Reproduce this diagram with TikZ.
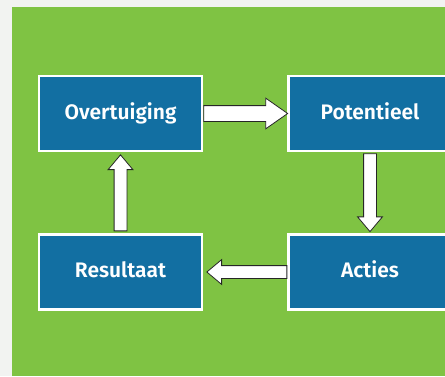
\documentclass[tikz,border=0pt]{standalone}
\usepackage{fontspec}
\setmainfont{Fira Sans}[BoldFont={Fira Sans SemiBold}]
\usetikzlibrary{shapes.arrows,positioning,calc}

\definecolor{leafgreen}{HTML}{7FC343}
\definecolor{cyclblue}{HTML}{126FA2}
\definecolor{paper}{HTML}{F2F3F1}

% fat white arrow from one anchor to another
\newcommand{\fatarrow}[3][]{%
  \path let \p1=(#2), \p2=(#3),
    \n1={atan2(\y2-\y1,\x2-\x1)}, \n2={veclen(\x2-\x1,\y2-\y1)} in
    node [fat, #1, rotate=\n1, minimum height=\n2, anchor=tail] at (\p1) {};}

\begin{document}
\begin{tikzpicture}[%
    x=1pt, y=1pt,               % Work in points, like the scan
    node distance=81pt and 84pt,% Gaps between the boxes
    ]
% -------------------------------------------------
% Box and arrow styles
\tikzset{
  box/.style={draw=white, line width=2.5pt, fill=cyclblue, text=white,
    minimum width=163pt, minimum height=75pt,
    text height=14pt, text depth=3pt,
    font={\fontsize{21}{25}\selectfont\bfseries}},
  fat/.style={single arrow, draw=black!85, fill=white, line width=0.8pt,
    inner sep=6pt, single arrow head extend=6pt,
    single arrow tip angle=80, shape border uses incircle=false}
}
% -------------------------------------------------
% Paper and green panel
\useasboundingbox (0,0) rectangle (445,376);
\fill[paper] (0,0) rectangle (445,376);
\fill[leafgreen] (12,0) rectangle (445,369);
% -------------------------------------------------
% The four boxes of the cycle
\node [box] at (120.5,262.5) (ov) {Overtuiging};
\node [box, right=of ov] (pot) {Potentieel};
\node [box, below=of pot] (act) {Acties};
\node [box, below=of ov] (res) {Resultaat};

% Connect them clockwise
\fatarrow[inner sep=7.5pt, single arrow head extend=7.5pt,
  single arrow tip angle=70]{ov.east}{pot.west}
\fatarrow{$(pot.south)+(0,-1)$}{$(act.north)+(0,2)$}
\fatarrow{act.west}{$(res.east)+(4,0)$}
\fatarrow{$(res.north)+(0,2)$}{$(ov.south)+(0,-3)$}
% -------------------------------------------------
\end{tikzpicture}
\end{document}
